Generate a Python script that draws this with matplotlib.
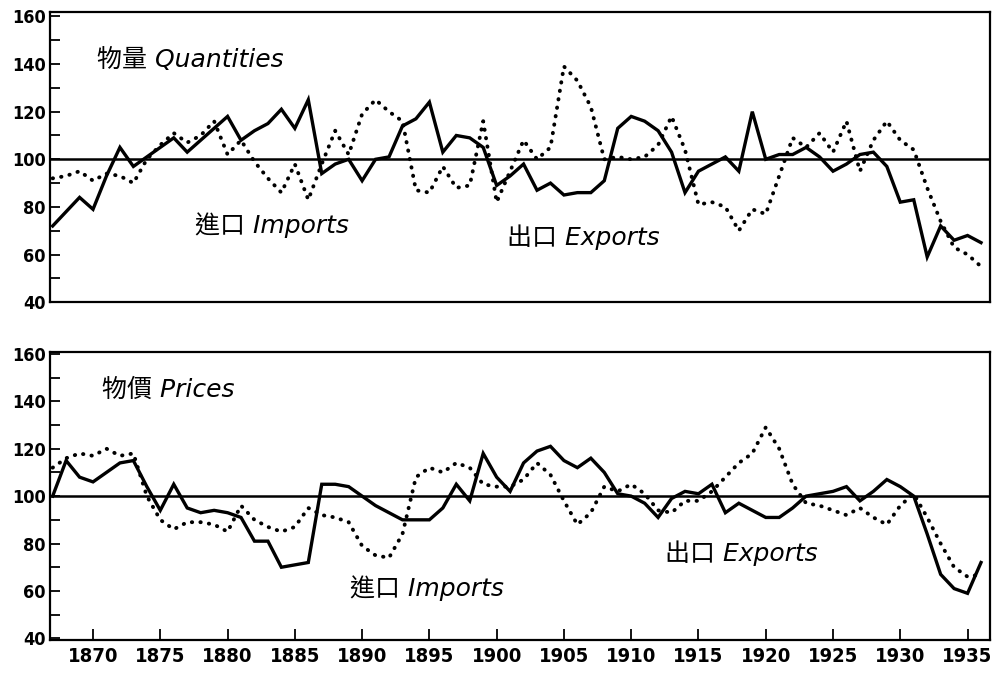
import numpy as np
import matplotlib
matplotlib.use("Agg")
from matplotlib import pyplot as plt

years = np.arange(1867, 1937)

# 物量 Quantities (solid / dotted)
qty_imports = [72, 78, 84, 79, 93, 105, 97, 101, 105, 109,
               103, 108, 113, 118, 108, 112, 115, 121, 113, 125,
               94, 98, 100, 91, 100, 101, 114, 117, 124, 103,
               110, 109, 105, 89, 93, 98, 87, 90, 85, 86,
               86, 91, 113, 118, 116, 112, 103, 86, 95, 98,
               101, 95, 120, 100, 102, 102, 105, 101, 95, 98,
               102, 103, 97, 82, 83, 59, 72, 66, 68, 65]
qty_exports = [92, 93, 95, 91, 94, 93, 90, 100, 106, 111,
               107, 110, 116, 102, 108, 99, 92, 86, 98, 83,
               98, 112, 102, 119, 125, 120, 116, 87, 86, 97,
               88, 89, 116, 82, 95, 108, 100, 105, 139, 133,
               122, 100, 101, 100, 101, 106, 118, 104, 81, 82,
               80, 70, 79, 77, 93, 109, 105, 111, 103, 116,
               95, 108, 116, 108, 104, 88, 74, 63, 60, 55]

# 物價 Prices (solid / dotted)
price_imports = [100, 115, 108, 106, 110, 114, 115, 104, 94, 105,
                 95, 93, 94, 93, 91, 81, 81, 70, 71, 72,
                 105, 105, 104, 100, 96, 93, 90, 90, 90, 95,
                 105, 98, 118, 108, 102, 114, 119, 121, 115, 112,
                 116, 110, 101, 100, 97, 91, 99, 102, 101, 105,
                 93, 97, 94, 91, 91, 95, 100, 101, 102, 104,
                 98, 102, 107, 104, 100, 84, 67, 61, 59, 72]
price_exports = [112, 116, 118, 117, 120, 117, 118, 100, 90, 86,
                 89, 89, 88, 85, 96, 90, 87, 85, 87, 95,
                 92, 91, 89, 79, 75, 74, 84, 108, 112, 110,
                 114, 112, 105, 104, 104, 107, 114, 109, 98, 88,
                 93, 104, 102, 105, 101, 94, 93, 98, 98, 102,
                 108, 114, 118, 129, 120, 105, 97, 96, 94, 92,
                 95, 91, 88, 96, 101, 91, 80, 70, 66, 67]

y_ticks = [40, 60, 80, 100, 120, 140, 160]
x_ticks = [1870, 1875, 1880, 1885, 1890, 1895, 1900, 1905, 1910, 1915, 1920, 1925, 1930, 1935]

fig = plt.figure(figsize=(9.94, 6.73), dpi=100)
ax1 = fig.add_axes([0.050, 0.551, 0.946, 0.431])
ax2 = fig.add_axes([0.050, 0.049, 0.946, 0.428])

ytick_font = dict(family="DejaVu Sans", size=13, weight="bold", stretch="condensed")
xtick_font = dict(family="DejaVu Sans", size=14.5, weight="bold", stretch="condensed")
lab_family = ["DejaVu Sans", "Noto Sans CJK TC"]


def style(ax, ylim):
	ax.set_xlim(1866.78, 1936.67)
	ax.set_ylim(*ylim)
	ax.axhline(100, color="black", lw=1.8, zorder=1)
	for s in ax.spines.values():
		s.set_linewidth(1.6)
	ax.set_yticks(y_ticks)
	ax.set_yticks(np.arange(50, 160, 20), minor=True)
	ax.set_yticklabels([str(v) for v in y_ticks], fontdict=ytick_font)
	ax.tick_params(axis="y", which="both", direction="in", length=7, width=1.3, pad=3)
	ax.tick_params(axis="x", which="both", direction="in", length=8, width=1.3, pad=5)


def draw(ax, solid, dotted):
	ax.plot(years, solid, color="black", lw=2.4, solid_joinstyle="miter", zorder=3)
	ax.plot(years, dotted, color="black", lw=2.8, linestyle=(0, (0.1, 2.1)),
			dash_capstyle="round", zorder=2)


draw(ax1, qty_imports, qty_exports)
style(ax1, (40, 161.8))
ax1.set_xticks(x_ticks)
ax1.set_xticklabels([])
ax1.tick_params(axis="x", length=0)

draw(ax2, price_imports, price_exports)
style(ax2, (39.3, 160.8))
ax2.set_xticks(x_ticks)
ax2.set_xticklabels([str(v) for v in x_ticks], fontdict=xtick_font)

lab = dict(family=lab_family, style="italic", size=18, va="center", ha="left")
ax1.text(1870.3, 141.6, "物量 Quantities", **lab)
ax1.text(1877.6, 72.3, "進口 Imports", **lab)
ax1.text(1900.8, 67.2, "出口 Exports", **lab)
ax2.text(1870.7, 144.7, "物價 Prices", **lab)
ax2.text(1889.1, 61.2, "進口 Imports", **lab)
ax2.text(1912.5, 76.0, "出口 Exports", **lab)

fig.savefig("out.png", dpi=100)
